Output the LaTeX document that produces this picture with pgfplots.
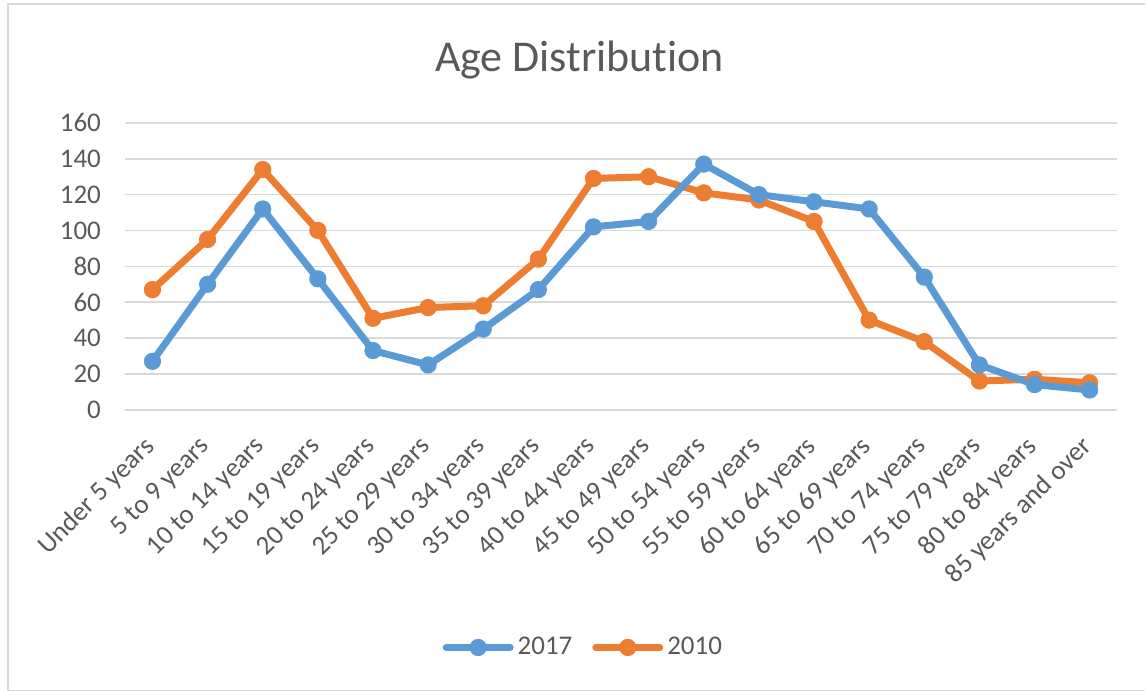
\documentclass[border=0pt]{standalone}
\usepackage{fontspec}
\setmainfont[Ligatures={NoCommon}]{Carlito}
\usepackage{pgfplots}
\pgfplotsset{compat=1.18}
\definecolor{xlBlue}{RGB}{91,155,213}
\definecolor{xlOrange}{RGB}{237,125,49}
\definecolor{xlText}{RGB}{89,89,89}
\definecolor{xlGrid}{RGB}{217,217,217}

\pgfplotstableread{
idx y2017 y2010
0  27  67
1  70  95
2  112 134
3  73  100
4  33  51
5  25  57
6  45  58
7  67  84
8  102 129
9  105 130
10 137 121
11 120 117
12 116 105
13 112 50
14 74  38
15 25  16
16 14  17
17 11  15
}\agedata

\begin{document}
\begin{tikzpicture}[x=1pt,y=1pt]
\path (0,0) rectangle (573,346);
\draw[xlGrid, line width=0.8pt] (4,0.5) -- (4,344) -- (573,344);
\draw[xlGrid, line width=0.8pt] (4,0.5) -- (573,0.5);
\begin{axis}[
    at={(62.5pt,141pt)}, anchor=south west,
    scale only axis,
    width=496.5pt, height=143.5pt,
    xmin=-0.5, xmax=17.5, ymin=0, ymax=160,
    axis line style={draw=none},
    xtick={0,...,17},
    xticklabels={Under 5 years,5 to 9 years,10 to 14 years,15 to 19 years,20 to 24 years,25 to 29 years,30 to 34 years,35 to 39 years,40 to 44 years,45 to 49 years,50 to 54 years,55 to 59 years,60 to 64 years,65 to 69 years,70 to 74 years,75 to 79 years,80 to 84 years,85 years and over},
    ytick={0,20,...,160},
    major tick length=0pt,
    ymajorgrids, grid style={xlGrid, line width=0.8pt},
    tick label style={font=\fontsize{13.5}{16}\selectfont, text=xlText},
    /pgf/number format/assume math mode=true,
    xticklabel style={xshift=1.5pt, yshift=-14pt, rotate=45, anchor=east},
    yticklabel style={xshift=-8.5pt},
    legend style={at={(0.463,-0.829)}, anchor=center, draw=none,
      font=\fontsize{13.5}{16}\selectfont, text=xlText,
      /tikz/every even column/.append style={column sep=8pt}},
    legend columns=2,
    legend image code/.code={\draw[#1, mark repeat=2, mark phase=2]
      plot coordinates {(0pt,0pt)(16pt,0pt)(32pt,0pt)};},
    every axis plot/.append style={line width=3.5pt, mark=*, mark size=4.1pt,
      line cap=round, line join=round, mark options={line width=0.4pt}},
]
\addplot[xlOrange, forget plot]
  table[x=idx, y=y2010] {\agedata};
\addplot[xlBlue]
  table[x=idx, y=y2017] {\agedata};
\addlegendentry{2017}
\addlegendimage{xlOrange, line width=3.5pt, mark=*, mark size=4.1pt, line cap=round, mark options={line width=0.4pt}}
\addlegendentry{2010}
\end{axis}
\node[text=xlText, font=\fontsize{22}{26}\selectfont] at (290,316) {Age Distribution};
\end{tikzpicture}
\end{document}
